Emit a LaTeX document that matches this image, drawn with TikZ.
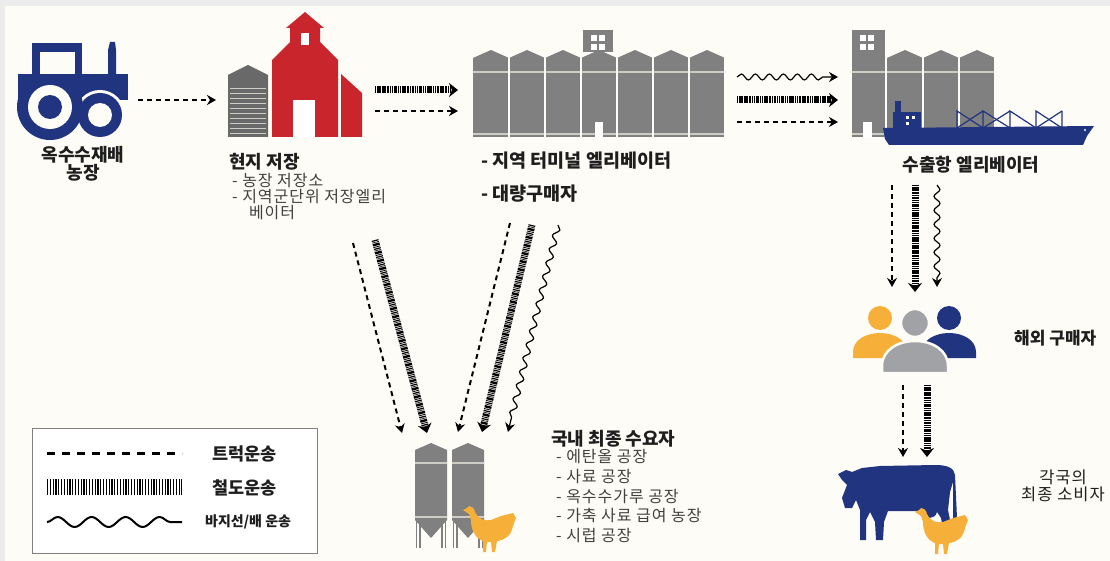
\documentclass[tikz,border=0pt]{standalone}
\usepackage{fontspec}
\setmainfont{Noto Sans CJK KR}
\newfontfamily\listFont[LetterSpace=6]{Noto Sans CJK KR}
\usepackage{tikz}
\usetikzlibrary{positioning,arrows.meta,decorations.pathmorphing}
\definecolor{navyBlue}{RGB}{33,52,128}
\definecolor{barnRed}{RGB}{200,38,44}
\definecolor{siloGray}{RGB}{128,128,128}
\definecolor{darkSilo}{RGB}{105,105,105}
\definecolor{stripeGray}{RGB}{205,205,198}
\definecolor{henOrange}{RGB}{246,176,58}
\definecolor{personGray}{RGB}{160,162,166}
\definecolor{paperColor}{RGB}{254,252,246}
\definecolor{edgeColor}{RGB}{236,236,236}
\definecolor{inkColor}{RGB}{30,30,30}
\tikzstyle{truckLine} = [draw=black, line width=2pt, dash pattern=on 5pt off 4pt, -{Stealth[length=9pt, width=10pt]}]
\tikzstyle{railLine} = [draw=black, line width=7pt, dash pattern=on 1.2pt off 0.8pt on 0.6pt off 0.8pt on 2.4pt off 0.8pt on 0.8pt off 0.9pt, -{Stealth[length=9pt, width=14pt]}]
\tikzstyle{bargeLine} = [draw=black, line width=1.2pt, decorate, decoration={snake, amplitude=3pt, segment length=14pt, post length=9pt}, -{Stealth[length=9pt, width=10pt]}]
\tikzstyle{iconArea} = [inner sep=0pt, outer sep=0pt, rectangle]
\tikzstyle{headText} = [font=\bfseries\fontsize{18}{21}\selectfont, text=inkColor, inner sep=0pt]
\tikzstyle{listText} = [font=\listFont\fontsize{16}{16}\selectfont, text=inkColor!85, inner sep=0pt, align=left]
\tikzstyle{siloBody} = [fill=siloGray]
\tikzstyle{siloGap} = [draw=paperColor, line width=1.5pt]
\tikzstyle{siloLeg} = [draw=siloGray, line width=1.2pt]
\tikzset{
  hen/.pic={
    \fill [henOrange] (0,4) -- (4,2) -- (6,0) .. controls (9,0) and (11,2) .. (12,6)
      .. controls (16,14) and (22,15) .. (28,14) -- (38,10) -- (50,7) -- (53,12) -- (50,20)
      .. controls (48,30) and (42,34) .. (34,35) -- (32,46) -- (29,46) -- (28,36) -- (24,36)
      -- (23,46) -- (20,46) -- (20,35) .. controls (12,32) and (8,24) .. (8,14) -- (6,8) -- cycle;
  }
}
\newcommand{\siloRow}[4]{
  \foreach \bin in {1,...,#2} {
    \pgfmathsetmacro{\binX}{#1 + (\bin - 1) * 36}
    \fill [siloBody] (\binX, #3) -- (\binX + 18, #3 - 8) -- (\binX + 36, #3) -- (\binX + 36, #4) -- (\binX, #4) -- cycle;
  }
  \fill [stripeGray] (#1, 71) rectangle (#1 + #2 * 36, 73);
  \fill [stripeGray] (#1, 133) rectangle (#1 + #2 * 36, 135);
  \foreach \bin in {1,...,#2} {
    \pgfmathsetmacro{\binX}{#1 + \bin * 36}
    \draw [siloGap] (\binX, #3 - 5) -- (\binX, #4);
  }
}
\newcommand{\windowGrid}[2]{
  \fill [white] (#1, #2) rectangle + (6, 6);
  \fill [white] (#1 + 8, #2) rectangle + (6, 6);
  \fill [white] (#1, #2 + 9) rectangle + (6, 6);
  \fill [white] (#1 + 8, #2 + 9) rectangle + (6, 6);
}
\newcommand{\tallSilo}[1]{
  \fill [siloBody] (#1, 450) -- (#1 + 16, 443) -- (#1 + 32, 450) -- (#1 + 32, 520) -- (#1 + 16, 538) -- (#1, 520) -- cycle;
  \fill [stripeGray] (#1, 462) rectangle (#1 + 32, 464);
  \fill [stripeGray] (#1, 516) rectangle (#1 + 32, 518);
  \foreach \leg in {1.5, 5, 27, 30.5} {
    \draw [siloLeg] (#1 + \leg, 518) -- (#1 + \leg, 548);
  }
}

\begin{document}
\begin{tikzpicture}[x=1pt, y=-1pt]
\useasboundingbox (0,0) rectangle (1110,561);
\fill [edgeColor] (0,0) rectangle (1110,561);
\fill [paperColor] (5,6) rectangle (1110,561);

% tractor
\fill [navyBlue] (32,43) rectangle (82,52);
\fill [navyBlue] (32,43) rectangle (40,78);
\fill [navyBlue] (75,43) rectangle (82,78);
\fill [navyBlue] (108,50) -- (110,42) -- (115,42) -- (116,50) -- (116,75) -- (108,75) -- cycle;
\fill [navyBlue] (18,74) rectangle (128,100);
\fill [paperColor] (100,115) circle (25);
\fill [navyBlue] (100,115) circle (22);
\fill [paperColor] (100,115) circle (12);
\fill [navyBlue] (50,107) circle (33);
\fill [paperColor] (50,107) circle (22);
\fill [navyBlue] (50,107) circle (12);
\node [iconArea, minimum width=112pt, minimum height=100pt] (farm) at (74,90) {};

% local storage
\fill [darkSilo] (228,75) -- (248,65) -- (268,75) -- (268,137) -- (228,137) -- cycle;
\foreach \y in {88,93,...,133} {
  \fill [stripeGray] (230,\y) rectangle (266,\y + 1.3);
}
\fill [barnRed] (272,137) -- (272,60) -- (290,42) -- (290,28) -- (286,28) -- (305,12) -- (324,28) -- (320,28) -- (320,42) -- (338,60) -- (338,137) -- cycle;
\fill [barnRed] (341,137) -- (341,74) -- (362,93) -- (362,137) -- cycle;
\fill [white] (301,33) rectangle (309,45);
\fill [white] (293,100) rectangle (315,137);
\node [iconArea, minimum width=134pt, minimum height=125pt] (store) at (295,74.5) {};

% terminal elevator
\fill [siloBody] (583,30) rectangle (613,52);
\windowGrid{591}{35}
\siloRow{473}{7}{58}{137}
\fill [white] (595,122) rectangle (603,137);
\node [iconArea, minimum width=252pt, minimum height=107pt] (term) at (599,83.5) {};

% export elevator and ship
\fill [siloBody] (852,30) rectangle (885,137);
\windowGrid{860}{35}
\siloRow{887}{3}{58}{137}
\fill [stripeGray] (852,71) rectangle (885,73);
\fill [stripeGray] (852,133) rectangle (885,135);
\fill [white] (863,122) rectangle (872,137);
\fill [navyBlue] (883,128) -- (1094,126) -- (1087,136) -- (1083,145) -- (889,145) -- (885,139) -- cycle;
\fill [navyBlue] (893,112) rectangle (921,129);
\fill [navyBlue] (895,101) rectangle (901,112);
\fill [white] (906,116) rectangle + (3,3);
\fill [white] (912,116) rectangle + (3,3);
\fill [white] (906,122) rectangle + (3,3);
\fill [white] (1085,130) circle (1.2);
\draw [navyBlue, line width=1.2pt] (957,128) -- (957,111) -- (983,128) -- (983,111) -- (1010,128) -- (1010,111) -- (1036,128) -- (1036,111) -- (1062,128) -- (1062,111);
\draw [navyBlue, line width=1.2pt] (983,128) -- (1010,111) (1036,128) -- (1062,111) (957,128) -- (983,111);
\node [iconArea, minimum width=248pt, minimum height=115pt] (port) at (976,87.5) {};

% overseas buyers
\fill [henOrange] (880,318) circle (12);
\fill [henOrange] (853,358) -- (853,352) .. controls (853,340) and (866,333) .. (880,333) .. controls (894,333) and (907,340) .. (907,352) -- (907,358) -- cycle;
\fill [navyBlue] (949,318) circle (12);
\fill [navyBlue] (922,358) -- (922,352) .. controls (922,340) and (935,333) .. (949,333) .. controls (963,333) and (976,340) .. (976,352) -- (976,358) -- cycle;
\filldraw [fill=personGray, draw=paperColor, line width=2.5pt] (882,373) -- (882,366) .. controls (882,350) and (898,341) .. (915,341) .. controls (932,341) and (948,350) .. (948,366) -- (948,373) -- cycle;
\filldraw [fill=personGray, draw=paperColor, line width=2.5pt] (915,323) circle (14);
\node [iconArea, minimum width=122pt, minimum height=67pt] (buyers) at (914,338.5) {};

% consumers abroad
\fill [navyBlue] (838,474) -- (846,470) -- (852,472) -- (862,468) -- (880,466) -- (935,465) .. controls (948,465) and (954,468) .. (955,475)
  -- (957,518) -- (960,525) -- (953,525) -- (953,482) -- (950,492) -- (948,510) -- (951,525) -- (952,540) -- (945,540) -- (941,518) -- (937,512)
  .. controls (935,520) and (925,520) .. (922,511) -- (888,511) -- (884,522) -- (883,540) -- (876,540) -- (875,522) -- (870,512) -- (866,520)
  -- (866,540) -- (860,540) -- (860,510) -- (856,500) -- (852,508) -- (845,508) -- (842,498) -- (847,485) -- (842,480) -- cycle;
\pic at (915,508) {hen};
\node [iconArea, minimum width=129pt, minimum height=100pt] (cow) at (902.5,510) {};

% domestic end users
\tallSilo{415}
\tallSilo{452}
\pic at (463,506) {hen};
\node [iconArea, minimum width=102pt, minimum height=110pt] (plant) at (466,498) {};

% transport links
\draw [truckLine] ([shift={(8,10)}]farm.east) -- ([shift={(-12,25.5)}]store.west);
\draw [railLine] ([shift={(13,15.5)}]store.east) -- ([shift={(-15,6.5)}]term.west);
\draw [truckLine] ([shift={(13,36.5)}]store.east) -- ([shift={(-15,27.5)}]term.west);
\draw [bargeLine] ([shift={(12,-6.5)}]term.east) -- ([shift={(-14,-10.5)}]port.west);
\draw [railLine] ([shift={(12,16.5)}]term.east) -- ([shift={(-14,12.5)}]port.west);
\draw [truckLine] ([shift={(12,38.5)}]term.east) -- ([shift={(-14,34.5)}]port.west);
\draw [truckLine] ([shift={(-84,40)}]port.south) -- ([shift={(-22,-18)}]buyers.north);
\draw [railLine] ([shift={(-61,40)}]port.south) -- ([shift={(1,-13)}]buyers.north);
\draw [bargeLine] ([shift={(-39,40)}]port.south) -- ([shift={(23,-18)}]buyers.north);
\draw [truckLine] ([shift={(-11,13)}]buyers.south) -- ([shift={(0.5,-3)}]cow.north);
\draw [railLine] ([shift={(13,13)}]buyers.south) -- ([shift={(24.5,-3)}]cow.north);
\draw [truckLine] ([shift={(58,106)}]store.south) -- ([shift={(-64,-10)}]plant.north);
\draw [railLine] ([shift={(80,103)}]store.south) -- ([shift={(-39,-10)}]plant.north);
\draw [truckLine] ([shift={(-89,86)}]term.south) -- ([shift={(-8,-11)}]plant.north);
\draw [railLine] ([shift={(-67,88)}]term.south) -- ([shift={(16,-11)}]plant.north);
\draw [bargeLine] ([shift={(-41,88)}]term.south) -- ([shift={(42,-11)}]plant.north);

% labels
\node [headText, align=center, font=\bfseries\fontsize{18}{18.5}\selectfont] (farmLabel) at (83,164) {옥수수재배\\농장};
\node [headText, anchor=base west] (storeLabel) at (229,169) {현지 저장};
\node [listText, anchor=north west] (storeList) at (232,173.5) {- 농장 저장소\\- 지역군단위 저장엘리\\\hspace*{1.05em}베이터};
\node [headText, anchor=base west, font=\bfseries\fontsize{18.5}{21}\selectfont] (termLabel) at (481,168) {- 지역 터미널 엘리베이터};
\node [headText, anchor=base west, font=\bfseries\fontsize{18.5}{21}\selectfont] (bulkLabel) at (481,201) {- 대량구매자};
\node [headText] (portLabel) at (971,165) {수출항 엘리베이터};
\node [headText, font=\fontsize{17}{20}\selectfont\bfseries, anchor=base west] (buyersLabel) at (1014,344) {해외 구매자};
\node [headText, font=\listFont\fontsize{16.5}{17}\selectfont, align=center] (consumerLabel) at (1063,486) {각국의\\최종 소비자};
\node [headText, anchor=base west] (plantLabel) at (551,445) {국내 최종 수요자};
\node [listText, anchor=north west, font=\listFont\fontsize{16}{19.8}\selectfont] (plantList) at (556,449) {- 에탄올 공장\\- 사료 공장\\- 옥수수가루 공장\\- 가축 사료 급여 농장\\- 시럽 공장};

% legend
\node [iconArea, draw=siloGray, fill=white, line width=1pt, minimum width=285pt, minimum height=125pt] (legend) at (174.5,490.5) {};
\draw [line width=3pt, dash pattern=on 8pt off 7pt] (47,453) -- (182,453);
\draw [line width=16pt, dash pattern=on 1.2pt off 1.6pt] (47,487) -- (182,487);
\draw [line width=2pt, decorate, decoration={snake, amplitude=5pt, segment length=34pt}] (47,522) -- (182,522);
\node [headText, font=\bfseries\fontsize{17.5}{20}\selectfont, anchor=west] (truckKey) at (212,454) {트럭운송};
\node [headText, font=\bfseries\fontsize{17.5}{20}\selectfont, anchor=west] (railKey) at (212,488) {철도운송};
\node [headText, font=\bfseries\fontsize{14}{16}\selectfont, anchor=west] (bargeKey) at (205,522) {바지선/배 운송};
\end{tikzpicture}
\end{document}
